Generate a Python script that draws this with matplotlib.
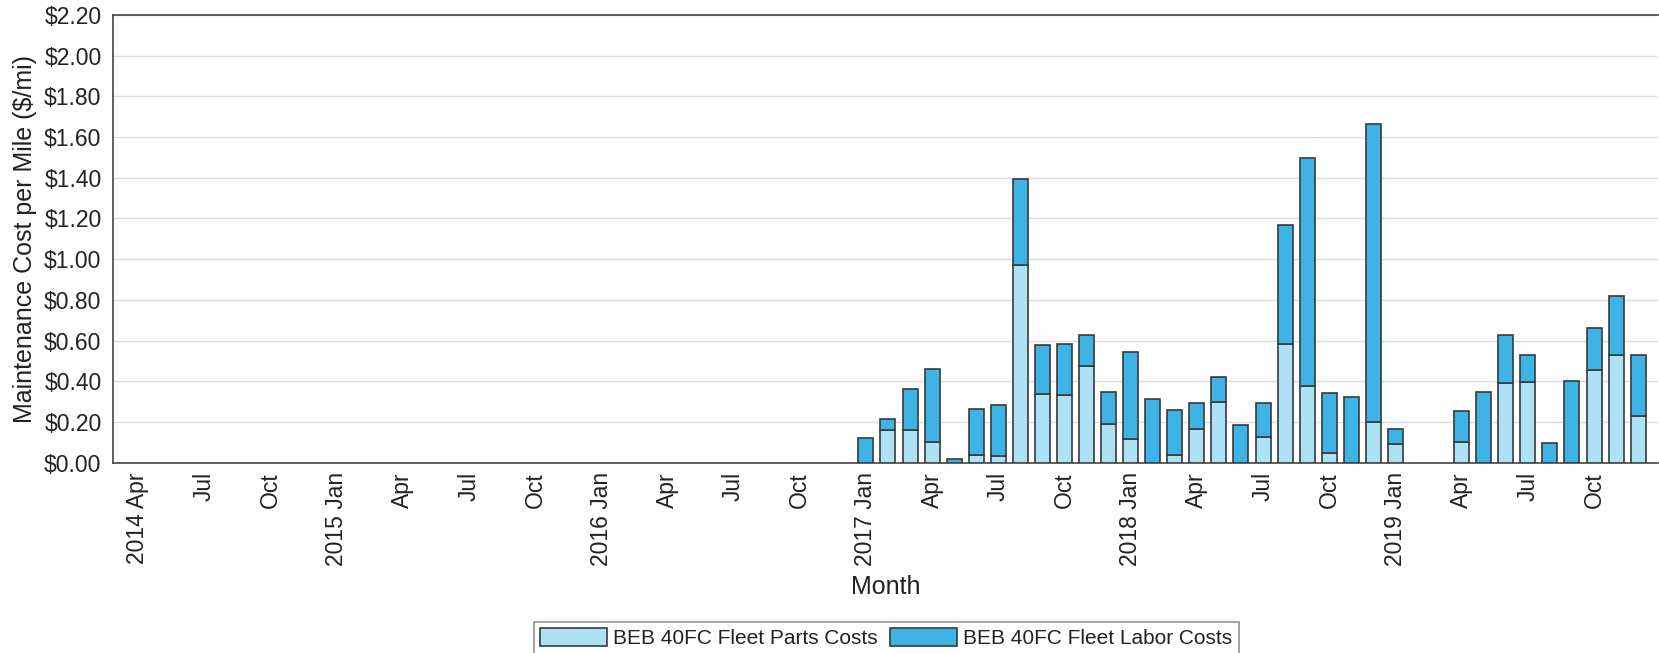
import numpy as np
import pandas as pd
import matplotlib
matplotlib.use("Agg")
import matplotlib.pyplot as plt
from matplotlib.ticker import MultipleLocator, FuncFormatter

plt.rcParams['font.family'] = ['Liberation Sans', 'DejaVu Sans']

# Axis months: 2014 Apr .. 2019 Dec
months = pd.period_range("2014-04", "2019-12", freq="M")

# Data months: 2017 Jan .. 2019 Dec (None = no data)
data_start = "2017-01"
parts = [0.00, 0.16, 0.16, 0.10, 0.00, 0.036, 0.031, 0.973, 0.339, 0.331, 0.473, 0.192,
         0.118, 0.00, 0.036, 0.164, 0.298, 0.00, 0.128, 0.581, 0.377, 0.046, 0.00, 0.198,
         0.090, None, None, 0.103, 0.00, 0.393, 0.396, 0.00, 0.00, 0.455, 0.529, 0.231]
labor = [0.120, 0.053, 0.204, 0.359, 0.016, 0.229, 0.251, 0.421, 0.238, 0.250, 0.153, 0.154,
         0.427, 0.311, 0.223, 0.131, 0.123, 0.184, 0.164, 0.587, 1.118, 0.295, 0.321, 1.465,
         0.075, None, None, 0.151, 0.349, 0.236, 0.133, 0.097, 0.403, 0.208, 0.290, 0.298]

parts_color = "#ade1f5"
labor_color = "#3db4e5"
edge = "#3a3a3a"

start_idx = months.get_loc(pd.Period(data_start, freq="M"))
x = np.arange(start_idx, start_idx + len(parts))
p = np.array([np.nan if v is None else v for v in parts], dtype=float)
l = np.array([np.nan if v is None else v for v in labor], dtype=float)
ok = ~np.isnan(p)

fig = plt.figure(figsize=(16.59, 6.53), dpi=100)
ax = fig.add_axes([0.0679, 0.2915, 0.9315, 0.6855])

ax.bar(x[ok], p[ok], width=0.68, color=parts_color, edgecolor=edge, linewidth=1.2,
       label="BEB 40FC Fleet Parts Costs", zorder=3)
ax.bar(x[ok], l[ok], bottom=p[ok], width=0.68, color=labor_color, edgecolor=edge, linewidth=1.2,
       label="BEB 40FC Fleet Labor Costs", zorder=3)

ax.set_xlim(-1.14, len(months) - 0.1)
ax.set_ylim(0, 2.2)
ax.yaxis.set_major_locator(MultipleLocator(0.2))
ax.yaxis.set_major_formatter(FuncFormatter(lambda v, pos: f"${v:.2f}"))
ax.grid(axis="y", color="#dcdcdc", linewidth=1.0, zorder=0)
ax.set_axisbelow(True)

tick_pos = np.arange(0, len(months), 3)
tick_lab = []
for i in tick_pos:
    m = months[i]
    if i == 0 or m.month == 1:
        tick_lab.append(f"{m.year} {m.strftime('%b')}")
    else:
        tick_lab.append(m.strftime('%b'))
ax.set_xticks(tick_pos)
ax.set_xticklabels(tick_lab, rotation=90)
ax.tick_params(axis="both", length=0, labelsize=16.5, colors="#222222")
ax.tick_params(axis="y", pad=8)
ax.tick_params(axis="x", pad=7)

for s in ["left", "top", "bottom"]:
    ax.spines[s].set_color("#444444")
    ax.spines[s].set_linewidth(1.2)
ax.spines["right"].set_visible(False)

ax.set_ylabel("Maintenance Cost per Mile ($/mi)", fontsize=18, color="#222222", labelpad=5)
ax.set_xlabel("Month", fontsize=18, color="#222222", labelpad=6)

leg = fig.legend(loc="upper left", bbox_to_anchor=(534 / 1659, 1 - 621.7 / 653),
                 ncol=2, fontsize=15, frameon=True, fancybox=False,
                 handlelength=3.2, handleheight=0.95, handletextpad=0.3,
                 columnspacing=0.6, borderpad=0.3, borderaxespad=0)
leg.get_frame().set_edgecolor("#777777")
leg.get_frame().set_linewidth(1.2)
for t in leg.get_texts():
    t.set_color("#222222")

fig.savefig("out.png", dpi=100)
